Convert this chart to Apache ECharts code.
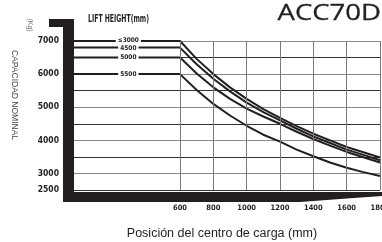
<!DOCTYPE html>
<html>
<head>
<meta charset="utf-8">
<script src="https://cdn.jsdelivr.net/npm/echarts@6/dist/echarts.min.js"></script>
<style>
  html, body { margin: 0; padding: 0; background: #fff; }
  #main { width: 382px; height: 242px; }
</style>
</head>
<body>
<div id="main"></div>
<script>
// load centre (mm) and rated capacity (kg) per lift height
var loadCenters = [600, 700, 800, 900, 1000, 1100, 1200, 1300, 1400, 1500, 1600, 1700, 1800];
var cap3000 = [7000, 6460, 6000, 5600, 5250, 4940, 4680, 4430, 4200, 4000, 3800, 3640, 3480];
var cap4500 = [6800, 6300, 5860, 5480, 5140, 4850, 4600, 4350, 4120, 3920, 3720, 3560, 3400];
var cap5000 = [6500, 6020, 5600, 5250, 4960, 4720, 4500, 4260, 4040, 3840, 3650, 3490, 3330];
var cap5500 = [6000, 5520, 5100, 4750, 4440, 4170, 3960, 3720, 3520, 3330, 3170, 3040, 2920];
var liftNames = ['≤3000', '4500', '5000', '5500'];
var xTicks = [600, 800, 1000, 1200, 1400, 1600, 1800];
var yLabels = [2500, 3000, 4000, 5000, 6000, 7000];
var xStart = -36;   // left end of the flat part (mast side)
var labelAt = 290;  // where the lift height tag sits on the flat part

var narrow = '"Liberation Sans Narrow", "DejaVu Sans Condensed", sans-serif';
var plain = '"Liberation Sans", Arial, sans-serif';
var ink = '#231f20';

function makeSeries(name, caps, dy) {
  var data = [[xStart, caps[0]], {
    value: [labelAt, caps[0]],
    label: {
      show: true, position: 'inside', formatter: name, offset: [0, dy],
      fontFamily: narrow, fontWeight: 'bold', fontSize: 6.5, color: ink,
      backgroundColor: '#fff', padding: [0, 2]
    }
  }];
  for (var i = 0; i < loadCenters.length; i++) data.push([loadCenters[i], caps[i]]);
  return {
    name: name, type: 'line', data: data,
    symbol: 'circle', symbolSize: 0, showSymbol: true,
    lineStyle: { color: ink, width: 2 }, itemStyle: { color: ink },
    label: { show: false }, z: 3, silent: true, animation: false
  };
}

var series = [
  makeSeries(liftNames[0], cap3000, -1),
  makeSeries(liftNames[1], cap4500, 1),
  makeSeries(liftNames[2], cap5000, 0),
  makeSeries(liftNames[3], cap5500, 0)
];
series[3].markLine = {
  silent: true, symbol: 'none', label: { show: false }, animation: false,
  lineStyle: { color: '#7a7a7a', width: 1, type: 'solid' },
  data: xTicks.map(function (v) { return { xAxis: v }; })
};

var myChart = echarts.init(document.getElementById('main'));
myChart.setOption({
  animation: false,
  grid: { left: 74, right: 2, top: 41, bottom: 52, outerBoundsMode: 'none', containLabel: false },
  xAxis: {
    type: 'value', min: xStart, max: 1800,
    axisLine: { show: false }, axisTick: { show: false }, splitLine: { show: false },
    axisLabel: {
      customValues: xTicks, margin: 14, hideOverlap: false,
      fontFamily: narrow, fontWeight: 'bold', fontSize: 7.5, color: ink,
      formatter: function (v) { return String(v); }
    },
    name: 'Posición del centro de carga (mm)', nameLocation: 'middle', nameGap: 37,
    nameTextStyle: { fontFamily: plain, fontSize: 12.5, color: ink, padding: [0, 10, 0, 0] }
  },
  yAxis: {
    type: 'value', min: 2500, max: 7000, interval: 500,
    axisLine: { show: false }, axisTick: { show: false },
    splitLine: { lineStyle: { color: ['#333', '#8a8a8a'], width: 1 } },
    axisLabel: {
      margin: 15, fontFamily: narrow, fontWeight: 'bold', fontSize: 8.5, color: ink,
      formatter: function (v) { return yLabels.indexOf(v) >= 0 ? String(v) : ''; }
    }
  },
  graphic: [
    { type: 'rect', shape: { x: 63, y: 19, width: 11, height: 183 }, style: { fill: ink }, z: 10 },
    { type: 'rect', shape: { x: 49, y: 19, width: 15, height: 8 }, style: { fill: ink }, z: 10 },
    { type: 'polygon', shape: { points: [[63, 192], [382, 192], [382, 196], [340, 199], [300, 202], [63, 202]] }, style: { fill: ink }, z: 10 },
    { type: 'text', x: 381, y: 14, scaleX: 1.25, style: { text: 'ACC70D', fontFamily: '"Open Sans", sans-serif', fontSize: 22, fill: ink, stroke: ink, lineWidth: 0.3, align: 'right', verticalAlign: 'middle' } },
    { type: 'text', x: 88, y: 19, scaleX: 0.62, style: { text: 'LIFT HEIGHT(mm)', fontFamily: narrow, fontWeight: 'bold', fontSize: 11, fill: ink, verticalAlign: 'middle' } },
    { type: 'text', x: 14, y: 95, rotation: -Math.PI / 2, style: { text: 'CAPACIDAD NOMINAL', fontFamily: plain, fontSize: 8.5, fill: '#4a4a4a', align: 'center', verticalAlign: 'middle' } },
    { type: 'text', x: 30, y: 25, rotation: -Math.PI / 2, style: { text: '(Kg)', fontFamily: plain, fontSize: 7, fill: '#777', align: 'center', verticalAlign: 'middle' } }
  ],
  series: series
});
</script>
</body>
</html>
